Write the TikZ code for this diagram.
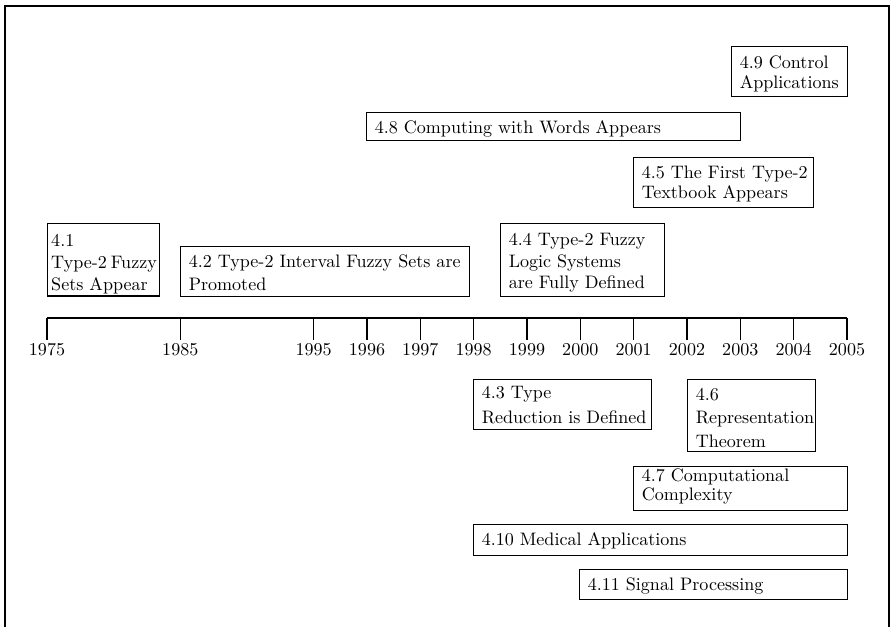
\documentclass[tikz,border=0pt]{standalone}
\newcommand\topgap[1]{\rule{0pt}{#1}}
\newcommand\botgap[1]{\rule[-#1]{0pt}{0pt}}
\begin{document}
\begin{tikzpicture}[x=0.5537pt,y=-0.5537pt,
  evbox/.style={draw,line width=0.7pt,anchor=north west,align=left,
    inner xsep=4.5pt,inner ysep=0pt,font=\fontsize{10}{#1}\selectfont},
  evbox/.default=12pt,
  yearlbl/.style={inner sep=0pt,font=\fontsize{10}{12}\selectfont},
  axisline/.style={line width=0.6pt},
  framebox/.style={line width=1.1pt}]
\useasboundingbox (0,0) rectangle (891,626);
% outer frame (runs past the bottom edge)
\draw[framebox] (5,640) -- (5,6) -- (889,6) -- (889,640);
% timeline
\foreach \yr/\xx in {1975/47,1985/180.3,1995/313.7,1996/367,1997/420.3,1998/473.7,
  1999/527,2000/580.3,2001/633.7,2002/687,2003/740.3,2004/793.7,2005/847}{
  \coordinate (t\yr) at (\xx,318);
  \coordinate (e\yr) at (\xx,340);
  \node[yearlbl] (l\yr) at (\xx,350) {\yr};
}
\draw[axisline] (t1975) -- (t2005);
\foreach \yr in {1975,1985,1995,1996,1997,1998,1999,2000,2001,2002,2003,2004,2005}{
  \draw[axisline] (t\yr) -- (e\yr);
}
% events above the axis
\node[evbox=12.2pt,inner xsep=2pt,text width=58pt] (b41) at (47,223)
  {\topgap{12.7pt}\mbox{4.1}\\\mbox{Type-2\hspace{0.22em}Fuzzy}\\\mbox{Sets Appear}\botgap{3pt}};
\node[evbox=12.9pt,text width=151pt] (b42) at (180,246)
  {\topgap{11.5pt}\mbox{4.2 Type-2 Interval Fuzzy Sets are}\\\mbox{Promoted}\botgap{3.3pt}};
\node[evbox=11.9pt,text width=81.8pt] (b44) at (500,223)
  {\topgap{12.2pt}\mbox{4.4 Type-2 Fuzzy}\\\mbox{Logic Systems}\\\mbox{are Fully Defined}\botgap{4.4pt}};
\node[evbox=11.1pt,text width=90.7pt] (b45) at (633,157)
  {\topgap{11.6pt}\mbox{4.5 The First Type-2}\\\mbox{Textbook Appears}\botgap{5pt}};
\node[evbox,text width=198.1pt] (b48) at (366,112)
  {\topgap{11.6pt}\mbox{4.8 Computing with Words Appears}\botgap{3.9pt}};
\node[evbox=11.1pt,text width=55.2pt] (b49) at (731,46)
  {\topgap{12.2pt}\mbox{4.9 Control}\\\mbox{Applications}\botgap{4.4pt}};
% events below the axis
\node[evbox=13.8pt,text width=89.6pt] (b43) at (473,379)
  {\topgap{10.5pt}\mbox{4.3 Type}\\\mbox{Reduction is Defined}\botgap{3.3pt}};
\node[evbox=13pt,text width=61.9pt] (b46) at (687,379)
  {\topgap{11.3pt}\mbox{4.6}\\\mbox{Representation}\\\mbox{Theorem}\botgap{2.6pt}};
\node[evbox=10.8pt,text width=109.5pt] (b47) at (633,466)
  {\topgap{8.2pt}\mbox{4.7 Computational}\\\mbox{Complexity}\botgap{5.4pt}};
\node[evbox,text width=198.1pt] (b410) at (473,524)
  {\topgap{11.6pt}\mbox{4.10 Medical Applications}\botgap{5.5pt}};
\node[evbox,text width=139.4pt] (b411) at (579,569)
  {\topgap{11.6pt}\mbox{4.11 Signal Processing}\botgap{5pt}};
\end{tikzpicture}
\end{document}
